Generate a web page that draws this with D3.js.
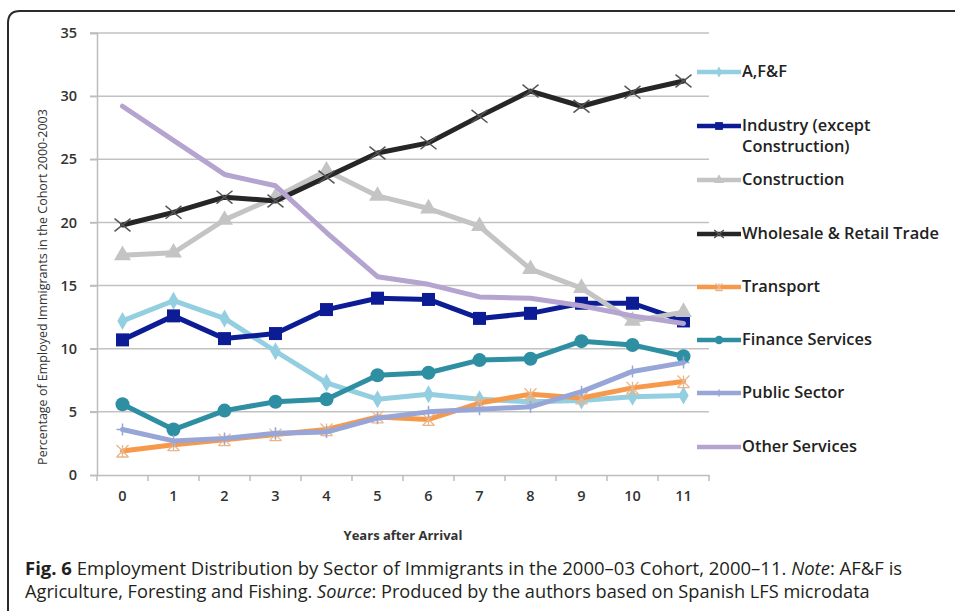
<!DOCTYPE html>
<html>
<head>
<meta charset="utf-8">
<script src="https://cdn.jsdelivr.net/npm/d3@7"></script>
<style>
  html, body { margin: 0; padding: 0; background: #fff; }
  svg { display: block; }
</style>
</head>
<body>
<svg id="chart" width="955" height="611"></svg>
<script>
// ---------------- DATA ----------------
const years = ["0","1","2","3","4","5","6","7","8","9","10","11"];
const yTicks = [0, 5, 10, 15, 20, 25, 30, 35];

const seriesNames = [
  "A,F&F",
  "Industry (except Construction)",
  "Construction",
  "Wholesale & Retail Trade",
  "Transport",
  "Finance Services",
  "Public Sector",
  "Other Services"
];

const afF          = [12.2, 13.8, 12.4, 9.8, 7.3, 6.0, 6.4, 6.0, 5.8, 5.9, 6.2, 6.3];
const industry     = [10.7, 12.6, 10.8, 11.2, 13.1, 14.0, 13.9, 12.4, 12.8, 13.6, 13.6, 12.2];
const construction = [17.4, 17.6, 20.2, 22.0, 24.1, 22.1, 21.1, 19.7, 16.3, 14.8, 12.2, 12.9];
const wholesale    = [19.8, 20.8, 22.0, 21.7, 23.6, 25.5, 26.3, 28.4, 30.4, 29.2, 30.3, 31.2];
const transport    = [1.9, 2.4, 2.8, 3.2, 3.6, 4.6, 4.4, 5.7, 6.4, 6.1, 6.9, 7.4];
const finance      = [5.6, 3.6, 5.1, 5.8, 6.0, 7.9, 8.1, 9.1, 9.2, 10.6, 10.3, 9.4];
const publicSector = [3.6, 2.7, 2.9, 3.3, 3.4, 4.5, 5.0, 5.2, 5.4, 6.6, 8.2, 8.9];
const otherServ    = [29.2, 26.5, 23.8, 22.9, 19.2, 15.7, 15.1, 14.1, 14.0, 13.4, 12.6, 12.0];

const yTitle = "Percentage of Employed Immigrants in the Cohort 2000-2003";
const xTitle = "Years after Arrival";

// ---------------- STYLE ----------------
const styles = [
  { color: "#93cfe0", marker: "diamond",  mcolor: "#93cfe0" },
  { color: "#0c1c94", marker: "square",   mcolor: "#0c1c94" },
  { color: "#c4c4c4", marker: "triangle", mcolor: "#c4c4c4" },
  { color: "#262626", marker: "x",        mcolor: "#555555" },
  { color: "#f7994a", marker: "star",     mcolor: "#e9b58a" },
  { color: "#2e8fa3", marker: "circle",   mcolor: "#2e8fa3" },
  { color: "#97a6d7", marker: "plus",     mcolor: "#97a6d7" },
  { color: "#b5a4cf", marker: "none",     mcolor: "#b5a4cf" }
];
const values = [afF, industry, construction, wholesale, transport, finance, publicSector, otherServ];

const svg = d3.select("#chart");
const font = "'Open Sans', 'Noto Sans', sans-serif";

// frame
svg.append("path")
  .attr("d", "M8,611 V23 Q8,11 20,11 H955")
  .attr("fill", "none").attr("stroke", "#2b2b2b").attr("stroke-width", 2);

// scales
const x = d3.scaleBand().domain(years).range([97, 709]);
const y = d3.scaleLinear().domain([0, 35]).range([475, 33]);
const cx = d => x(d) + x.bandwidth() / 2;

// gridlines
svg.append("g").selectAll("line").data(yTicks.filter(t => t > 0)).join("line")
  .attr("x1", 90).attr("x2", 709)
  .attr("y1", d => y(d)).attr("y2", d => y(d))
  .attr("stroke", "#c2c2c2").attr("stroke-width", 1.5);

// y axis
const yAxis = svg.append("g").attr("transform", "translate(97,0)")
  .call(d3.axisLeft(y).tickValues(yTicks).tickSize(7).tickPadding(13));
yAxis.select(".domain").attr("stroke", "#bdbdbd").attr("stroke-width", 1.5);
yAxis.selectAll(".tick line").attr("stroke", "#bdbdbd").attr("stroke-width", 1.5);
yAxis.selectAll("text").attr("font-family", font).attr("font-size", 14.5)
  .attr("font-weight", 600).attr("fill", "#333");

// x axis
const xAxis = svg.append("g").attr("transform", "translate(0,475)")
  .call(d3.axisBottom(x).tickSize(0).tickPadding(16));
xAxis.select(".domain").attr("stroke", "#bdbdbd").attr("stroke-width", 1.5);
xAxis.selectAll("text").attr("font-family", font).attr("font-size", 14.5)
  .attr("font-weight", 600).attr("fill", "#333");
// band boundary ticks
const bounds = years.map(d => x(d)).concat([x(years[years.length - 1]) + x.bandwidth()]);
svg.append("g").selectAll("line").data(bounds).join("line")
  .attr("x1", d => d).attr("x2", d => d).attr("y1", 475).attr("y2", 481)
  .attr("stroke", "#bdbdbd").attr("stroke-width", 1.5);

// axis titles
svg.append("text")
  .attr("transform", "translate(47,287) rotate(-90)")
  .attr("text-anchor", "middle")
  .attr("font-family", font).attr("font-size", 12.5).attr("fill", "#333")
  .text(yTitle);
svg.append("text")
  .attr("x", 403).attr("y", 540).attr("text-anchor", "middle")
  .attr("font-family", font).attr("font-size", 13).attr("font-weight", 700).attr("fill", "#333")
  .text(xTitle);

// markers
function drawMarker(g, type, px, py, s, col) {
  if (type === "diamond") {
    g.append("path").attr("d", d3.symbol(d3.symbolDiamond, s * s * 0.55)())
      .attr("transform", `translate(${px},${py})`).attr("fill", col);
  } else if (type === "square") {
    g.append("rect").attr("x", px - s / 2).attr("y", py - s / 2)
      .attr("width", s).attr("height", s).attr("fill", col);
  } else if (type === "triangle") {
    g.append("path").attr("d", d3.symbol(d3.symbolTriangle, s * s * 0.55)())
      .attr("transform", `translate(${px},${py})`).attr("fill", col);
  } else if (type === "circle") {
    g.append("circle").attr("cx", px).attr("cy", py).attr("r", s / 2).attr("fill", col);
  } else if (type === "x") {
    const h = s / 2;
    g.append("path").attr("d", `M${px-h},${py-h*0.8}L${px+h},${py+h*0.8}M${px-h},${py+h*0.8}L${px+h},${py-h*0.8}`)
      .attr("stroke", col).attr("stroke-width", 1.5).attr("fill", "none");
  } else if (type === "star") {
    const h = s / 2;
    g.append("path").attr("d", `M${px-h},${py-h}L${px+h},${py+h}M${px-h},${py+h}L${px+h},${py-h}M${px},${py-h}V${py+h}M${px-h},${py+h}H${px+h}`)
      .attr("stroke", col).attr("stroke-width", 1.3).attr("fill", "none");
  } else if (type === "plus") {
    const h = s / 2;
    g.append("path").attr("d", `M${px},${py-h}V${py+h}M${px-h},${py}H${px+h}`)
      .attr("stroke", col).attr("stroke-width", 1.5).attr("fill", "none");
  }
}
const msize = { diamond: 13, square: 13, triangle: 15, circle: 14, x: 16, star: 12, plus: 12, none: 0 };

const line = d3.line().x((d, i) => cx(years[i])).y(d => y(d));

values.forEach((vals, k) => {
  const st = styles[k];
  const g = svg.append("g");
  g.append("path").datum(vals).attr("d", line)
    .attr("fill", "none").attr("stroke", st.color).attr("stroke-width", 5)
    .attr("stroke-linejoin", "round").attr("stroke-linecap", "round");
  vals.forEach((v, i) => drawMarker(g, st.marker, cx(years[i]), y(v), msize[st.marker], st.mcolor));
});

// legend
const legendY = [72, 126, 180, 234, 287, 340, 393, 447];
const legendLabels = [["A,F&F"], ["Industry (except", "Construction)"], ["Construction"], ["Wholesale & Retail Trade"], ["Transport"], ["Finance Services"], ["Public Sector"], ["Other Services"]];
const legendTexts = [];
legendLabels.forEach((lines, k) => {
  const st = styles[k];
  const g = svg.append("g");
  const ly = legendY[k];
  g.append("line").attr("x1", 697).attr("x2", 741).attr("y1", ly).attr("y2", ly)
    .attr("stroke", st.color).attr("stroke-width", 4.5);
  if (st.marker !== "none") drawMarker(g, st.marker, 719, ly, msize[st.marker] * 0.6, st.mcolor);
  const t = g.append("text").attr("x", 742).attr("y", ly + 5)
    .attr("font-family", font).attr("font-size", 14).attr("font-weight", 600).attr("fill", "#222");
  lines.forEach((s, j) => t.append("tspan").attr("x", 742).attr("dy", j === 0 ? 0 : 21).text(s));
  legendTexts.push(t);
});
// fit legend font so the widest entry matches reference width
const wW = legendTexts[3].node().getComputedTextLength();
const lfs = 14 * 197 / wW;
legendTexts.forEach(t => t.attr("font-size", lfs));

// caption
const cap1 = svg.append("text").attr("x", 25).attr("y", 575)
  .attr("font-family", font).attr("font-size", 16).attr("fill", "#231f20");
cap1.append("tspan").attr("font-weight", 700).text("Fig. 6");
cap1.append("tspan").text(" Employment Distribution by Sector of Immigrants in the 2000\u201303 Cohort, 2000\u201311. ");
cap1.append("tspan").attr("font-style", "italic").text("Note");
cap1.append("tspan").text(": AF&F is");
const cap2 = svg.append("text").attr("x", 25).attr("y", 598)
  .attr("font-family", font).attr("font-size", 16).attr("fill", "#231f20");
cap2.append("tspan").text("Agriculture, Foresting and Fishing. ");
cap2.append("tspan").attr("font-style", "italic").text("Source");
cap2.append("tspan").text(": Produced by the authors based on Spanish LFS microdata");
// fit caption lines to reference widths
const w1 = cap1.node().getComputedTextLength();
cap1.attr("font-size", 16 * 878 / w1);
const w2 = cap2.node().getComputedTextLength();
cap2.attr("font-size", 16 * 845 / w2);
</script>
</body>
</html>
